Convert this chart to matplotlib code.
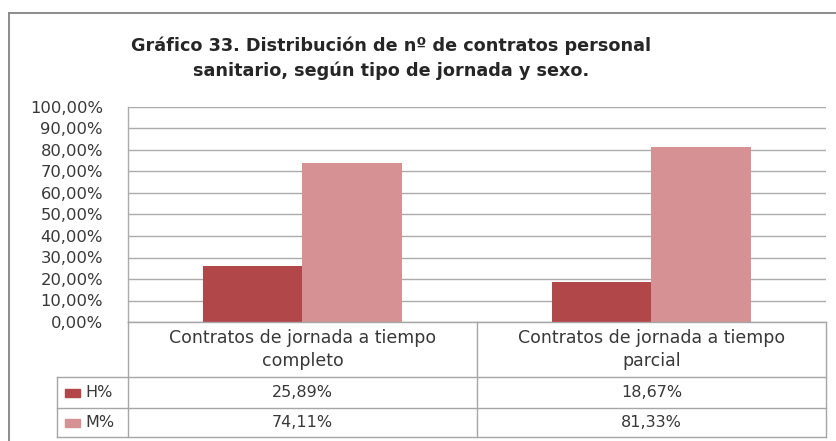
import matplotlib
matplotlib.use("Agg")
import matplotlib.pyplot as plt
from matplotlib.lines import Line2D
from matplotlib.patches import Rectangle

categories = ["Contratos de jornada a tiempo\ncompleto", "Contratos de jornada a tiempo\nparcial"]
series_names = ["H%", "M%"]
h_values = [25.89, 18.67]
m_values = [74.11, 81.33]
yticks = [0, 10, 20, 30, 40, 50, 60, 70, 80, 90, 100]
title = "Gráfico 33. Distribución de nº de contratos personal\nsanitario, según tipo de jornada y sexo."

W, H = 837, 441
h_color = "#B2474A"
m_color = "#D59193"
grid_color = "#ABABAB"
text_color = "#383838"
FONT = "DejaVu Sans"

fig = plt.figure(figsize=(W / 100, H / 100), dpi=100)
fig.patch.set_facecolor("white")

def fx(x):
    return x / W

def fy(y):
    return 1 - y / H

# outer chart border (cropped at right/bottom)
fig.add_artist(Line2D([fx(9), fx(9)], [fy(13), fy(445)], color="#8C8C8C", lw=1.4))
fig.add_artist(Line2D([fx(9), fx(845)], [fy(13), fy(13)], color="#8C8C8C", lw=1.4))

# plot area
left, right, top, bottom = 128, 826, 107, 322
ax = fig.add_axes([fx(left), fy(bottom), fx(right - left), (bottom - top) / H])
ax.set_xlim(-0.5, 1.5)
ax.set_ylim(0, 100)
for s in ["top", "right", "bottom"]:
    ax.spines[s].set_visible(False)
ax.spines["left"].set_color(grid_color)
ax.spines["left"].set_linewidth(1.0)
ax.set_yticks(yticks)
ax.set_yticklabels([f"{v:.2f}".replace(".", ",") + "%" for v in yticks],
                   fontsize=11.8, color=text_color, family=FONT)
ax.tick_params(axis="y", length=0, pad=18)
ax.set_xticks([])
ax.yaxis.grid(True, color=grid_color, lw=1.0)
ax.set_axisbelow(True)

bw = 0.285
xs = list(range(len(categories)))
ax.bar([x - bw / 2 for x in xs], h_values, width=bw, color=h_color, zorder=3)
ax.bar([x + bw / 2 for x in xs], m_values, width=bw, color=m_color, zorder=3)

# title
fig.text(fx(391), fy(58.5), title, ha="center", va="center", fontsize=12.7,
         fontweight="bold", family=FONT, color="#262626", linespacing=1.45)

# data table
row_top, row1, row2, row3 = 322, 377, 408, 437
tab_left = 57
mid = (left + right) / 2
lc = "#A6A6A6"
def hline(x0, x1, y):
    fig.add_artist(Line2D([fx(x0), fx(x1)], [fy(y), fy(y)], color=lc, lw=1.0))
def vline(x, y0, y1):
    fig.add_artist(Line2D([fx(x), fx(x)], [fy(y0), fy(y1)], color=lc, lw=1.0))

hline(left, right, row_top)
hline(tab_left, right, row1)
hline(tab_left, right, row2)
hline(tab_left, right, row3)
vline(left, row_top, row3)
vline(mid, row_top, row3)
vline(right, row_top, row3)
vline(tab_left, row1, row3)

col_centers = [(left + mid) / 2, (mid + right) / 2]
for c, lab in zip(col_centers, categories):
    fig.text(fx(c), fy(349.5), lab, ha="center", va="center",
             fontsize=12.5, family=FONT, color=text_color, linespacing=1.4)

for (ry0, ry1), name, vals, col in [((row1, row2), series_names[0], h_values, h_color),
                                     ((row2, row3), series_names[1], m_values, m_color)]:
    yc = (ry0 + ry1) / 2
    fig.add_artist(Rectangle((fx(65), fy(yc + 4)), fx(15), 8 / H, color=col,
                             transform=fig.transFigure))
    fig.text(fx(85), fy(yc), name, ha="left", va="center", fontsize=11.5,
             family=FONT, color=text_color)
    for c, v in zip(col_centers, vals):
        fig.text(fx(c), fy(yc), f"{v:.2f}".replace(".", ",") + "%", ha="center",
                 va="center", fontsize=11.5, family=FONT, color=text_color)

fig.savefig("out.png", dpi=100, facecolor="white")
